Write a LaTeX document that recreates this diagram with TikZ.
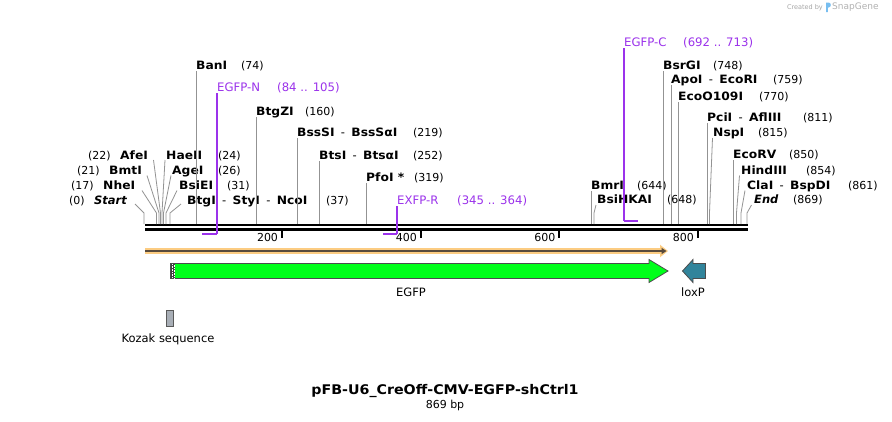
\documentclass[tikz,border=0pt]{standalone}
\usepackage{fontspec}
\setmainfont{DejaVu Sans}[BoldFeatures={FakeStretch=1.07}]
\usepackage{tikz}
\usetikzlibrary{calc,arrows.meta}

\definecolor{primcol}{RGB}{155,50,235}
\definecolor{egfpgreen}{RGB}{0,255,26}
\definecolor{loxcol}{RGB}{49,132,155}
\definecolor{kozakgray}{RGB}{168,174,182}
\definecolor{orfband}{RGB}{252,204,130}
\definecolor{orfline}{RGB}{88,74,60}
\definecolor{logoblue}{RGB}{120,190,240}

\newcommand{\enzsep}{\hspace{0.55em}{\mdseries -}\hspace{0.55em}}

\tikzset{
  enz/.style={font=\fontsize{11.5}{13}\selectfont\bfseries,inner sep=0pt,text height=8.4pt,text depth=0pt,anchor=west},
  num/.style={font=\fontsize{11}{13}\selectfont,inner sep=0pt,text height=8.4pt,text depth=0pt,anchor=west},
  prim/.style={font=\fontsize{11.7}{13}\selectfont,text=primcol,inner sep=0pt,text height=8.4pt,text depth=0pt,anchor=west},
  featlbl/.style={font=\fontsize{11.5}{13}\selectfont,inner sep=0pt},
  cutline/.style={draw=gray!85,line width=0.8pt},
  primline/.style={draw=primcol,line width=1.4pt},
  primbar/.style={draw=primcol,line width=2pt}
}

\begin{document}
\begin{tikzpicture}[x=1pt,y=-1pt,>=Latex]
  \fill[white] (0,0) rectangle (892,421);
  \useasboundingbox (0,0) rectangle (892,421);

  % backbone and ruler
  \coordinate (bbl) at (145,224.8);
  \coordinate (bbr) at (748,224.8);
  \draw[line width=2.4pt] (bbl) -- (bbr);
  \draw[line width=2.4pt] ($(bbl)+(0,4.8)$) -- ($(bbr)+(0,4.8)$);
  \foreach \t/\x in {200/281.7,400/420.5,600/559,800/697.5}{
    \draw[line width=2pt] (\x,231) -- (\x,237.5);
    \node[num,anchor=east] (t\t) at (\x-3.5,237) {\t};
  }

  % enzyme labels
  \node[enz] (banI) at (196,65) {BanI};
  \node[num] (banI-n) at (241,65) {(74)};
  \node[enz] (btgZI) at (256,111) {BtgZI};
  \node[num] (btgZI-n) at (305,111) {(160)};
  \node[enz] (bssSI) at (297,132) {BssSI\enzsep BssSαI};
  \node[num] (bssSI-n) at (413,132) {(219)};
  \node[enz] (btsI) at (319,155) {BtsI\enzsep BtsαI};
  \node[num] (btsI-n) at (413,155) {(252)};
  \node[enz] (pfoI) at (366,177) {PfoI *};
  \node[num] (pfoI-n) at (414,177) {(319)};
  \node[enz] (btgI) at (187,200) {BtgI\enzsep StyI\enzsep NcoI};
  \node[num] (btgI-n) at (326,200) {(37)};
  \node[enz] (haeII) at (166,155) {HaeII};
  \node[num] (haeII-n) at (218,155) {(24)};
  \node[enz] (ageI) at (172,170) {AgeI};
  \node[num] (ageI-n) at (218,170) {(26)};
  \node[enz] (bsiEI) at (179,185) {BsiEI};
  \node[num] (bsiEI-n) at (227,185) {(31)};
  \node[enz] (afeI) at (120,155) {AfeI};
  \node[num] (afeI-n) at (88,155) {(22)};
  \node[enz] (bmtI) at (109,170) {BmtI};
  \node[num] (bmtI-n) at (77,170) {(21)};
  \node[enz] (nheI) at (103,185) {NheI};
  \node[num] (nheI-n) at (71,185) {(17)};
  \node[enz] (start) at (94,200) {\itshape Start};
  \node[num] (start-n) at (69,200) {(0)};

  \node[enz] (bmrI) at (591,185) {BmrI};
  \node[num] (bmrI-n) at (637,185) {(644)};
  \node[enz] (bsiHKAI) at (597,199) {BsiHKAI};
  \node[num] (bsiHKAI-n) at (667,199) {(648)};
  \node[enz] (bsrGI) at (663,65) {BsrGI};
  \node[num] (bsrGI-n) at (713,65) {(748)};
  \node[enz] (apoI) at (671,79) {ApoI\enzsep EcoRI};
  \node[num] (apoI-n) at (773,79) {(759)};
  \node[enz] (ecoO) at (678,96) {EcoO109I};
  \node[num] (ecoO-n) at (759,96) {(770)};
  \node[enz] (pciI) at (707,117) {PciI\enzsep AflIII};
  \node[num] (pciI-n) at (803,117) {(811)};
  \node[enz] (nspI) at (713,132) {NspI};
  \node[num] (nspI-n) at (758,132) {(815)};
  \node[enz] (ecoRV) at (733,154) {EcoRV};
  \node[num] (ecoRV-n) at (789,154) {(850)};
  \node[enz] (hindIII) at (741,170) {HindIII};
  \node[num] (hindIII-n) at (806,170) {(854)};
  \node[enz] (claI) at (747,185) {ClaI\enzsep BspDI};
  \node[num] (claI-n) at (848,185) {(861)};
  \node[enz] (endlbl) at (754,199) {\itshape End};
  \node[num] (endlbl-n) at (793,199) {(869)};

  % straight cut lines
  \foreach \n/\s in {banI/196,btgZI/256,bssSI/297,btsI/319,pfoI/366,bmrI/591.5,
                     bsrGI/663,apoI/671,ecoO/678,pciI/707,ecoRV/733.5}{
    \coordinate (\n-s) at (\s,224);
    \draw[cutline] (\n-s) -- ($(\n-s |- \n.south)+(0,1.5)$);
  }
  % bent cut lines
  \foreach \n/\s/\ex/\ey in {start/144/135/204,nheI/156.5/142/190.5,bmtI/159/147/175.5,
                             afeI/160.5/153.5/160,haeII/162/165/160,ageI/163.5/171/175.5,
                             bsiEI/166/177/190.5,btgI/170/181/204,bsiHKAI/594/596/205,
                             nspI/709.5/712.5/138,hindIII/736.5/739.5/175.5,
                             claI/741/745/190.5,endlbl/747/751.5/205}{
    \coordinate (\n-s) at (\s,224);
    \coordinate (\n-e) at (\ex,\ey);
    \draw[cutline] (\n-s) -- ++(0,-11) -- (\n-e);
  }

  % primers
  \node[prim] (egfpN) at (217,87) {EGFP-N};
  \node[prim] (egfpN-n) at (277,87) {(84 .. 105)};
  \node[prim] (exfpR) at (397,200) {EXFP-R};
  \node[prim] (exfpR-n) at (457,200) {(345 .. 364)};
  \node[prim] (egfpC) at (624,42) {EGFP-C};
  \node[prim] (egfpC-n) at (683,42) {(692 .. 713)};
  \coordinate (egfpN-b) at (202,233.5);
  \coordinate (exfpR-b) at (383,233.5);
  \coordinate (egfpC-b) at (637.5,220.5);
  \draw[primline] ($(egfpN.south west)+(0,2)$) -- (egfpN.south west |- egfpN-b);
  \draw[primbar] (egfpN-b) -- (egfpN.south west |- egfpN-b);
  \draw[primline] ($(exfpR.south west)+(0,2)$) -- (exfpR.south west |- exfpR-b);
  \draw[primbar] (exfpR-b) -- (exfpR.south west |- exfpR-b);
  \draw[primline] ($(egfpC.south west)+(0,2)$) -- (egfpC.south west |- egfpC-b);
  \draw[primbar] (egfpC-b) -- (egfpC.south west |- egfpC-b);

  % features
  \coordinate (orf-s) at (145,251);
  \coordinate (orf-e) at (668,251);
  \draw[orfband,line width=6pt,-{Triangle[length=8pt,width=12pt]}] (orf-s) -- (orf-e);
  \draw[orfline,line width=1.8pt,-{Triangle[length=5pt,width=6pt]}] (orf-s) -- ($(orf-e)+(-1.5,0)$);

  \draw[fill=egfpgreen,draw=black!70,line width=0.8pt]
    (170.5,263.5) -- (649,263.5) -- (649,259.5) -- (668,271) -- (649,282.5)
    -- (649,278.5) -- (170.5,278.5) -- cycle;
  \fill[black!75] (171,264) rectangle (175,278);
  \draw[white,line width=0.7pt,dash pattern=on 0.8pt off 0.8pt] (172,264) -- (172,278);
  \draw[white,line width=0.7pt,dash pattern=on 0.8pt off 0.8pt] (174,264.8) -- (174,278);
  \node[featlbl] (egfp) at (411,292) {EGFP};

  \draw[fill=loxcol,draw=black!70,line width=0.8pt]
    (682.5,271) -- (693,259.5) -- (693,263.5) -- (705.5,263.5) -- (705.5,278.5)
    -- (693,278.5) -- (693,282.5) -- cycle;
  \node[featlbl] (loxP) at (693,292) {loxP};

  \draw[fill=kozakgray,draw=black!65,line width=0.8pt] (166.5,310.5) rectangle (173,326.5);
  \node[featlbl] (kozak) at (168,339) {Kozak sequence};

  % title
  \node[font=\fontsize{13.3}{16}\selectfont\bfseries,inner sep=0pt] (title) at (445,391) {pFB-U6\_CreOff-CMV-EGFP-shCtrl1};
  \node[font=\fontsize{11}{13}\selectfont,inner sep=0pt] (bp) at (445,405) {869 bp};

  % credit
  \node[font=\fontsize{6.5}{8}\selectfont,text=gray!70,inner sep=0pt,anchor=east] (credit) at (823,7.5) {Created by};
  \fill[logoblue] (826,2.5) -- (828.5,2.5) .. controls (831.5,2.5) and (831.5,7.5) .. (828.5,7.5)
    -- (827.8,7.5) -- (827.8,12) -- (826,12) -- cycle;
  \node[font=\fontsize{9}{10}\selectfont,text=gray!60,inner sep=0pt,anchor=west] (snapgene) at (832,7.5) {SnapGene};
\end{tikzpicture}
\end{document}
